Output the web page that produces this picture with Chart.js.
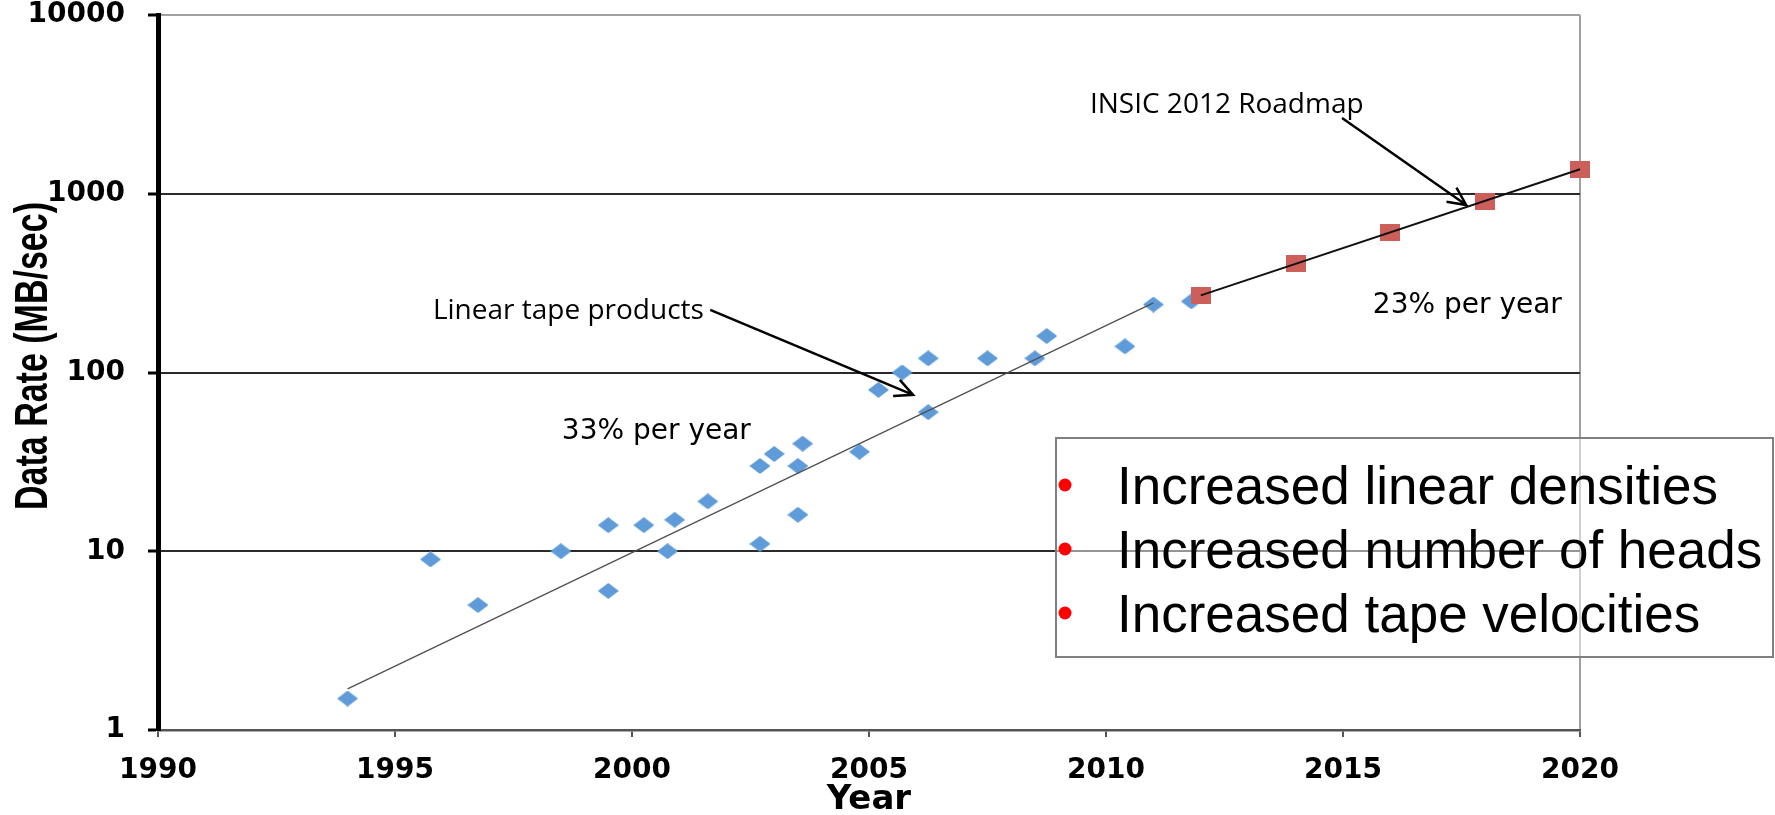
<!DOCTYPE html>
<html>
<head>
<meta charset="utf-8">
<title>Linear tape data rate trend</title>
<script src="https://cdn.jsdelivr.net/npm/chart.js@4.4.1/dist/chart.umd.min.js"></script>
<style>
  html, body { margin: 0; padding: 0; background: #ffffff; }
  #wrap { width: 1775px; height: 815px; }
</style>
</head>
<body>
<div id="wrap"><canvas id="chart" width="1775" height="815"></canvas></div>
<script>
// Linear tape products: year of introduction and native data rate (MB/sec)
const productYears = [1994, 1995.75, 1996.75, 1998.5, 1999.5, 1999.5, 2000.25, 2000.75, 2000.9, 2001.6,
                      2002.7, 2002.7, 2003.0, 2003.5, 2003.6, 2003.5, 2004.8, 2005.2, 2005.7, 2006.25,
                      2006.25, 2007.5, 2008.5, 2008.75, 2010.4, 2011.0, 2011.8];
const productRates = [1.5, 9, 5, 10, 14, 6, 14, 10, 15, 19,
                      30, 11, 35, 30, 40, 16, 36, 80, 100, 60,
                      120, 120, 120, 160, 140, 240, 250];

// INSIC 2012 roadmap projection (MB/sec)
const roadmapYears = [2012, 2014, 2016, 2018, 2020];
const roadmapRates = [270, 405, 610, 910, 1370];

// Growth-rate fit lines (end points)
const productFitYears = [1994, 2011];
const productFitRates = [1.7, 245];
const roadmapFitYears = [2012, 2020];
const roadmapFitRates = [270, 1370];

// Axis ticks
const xTickValues = [1990, 1995, 2000, 2005, 2010, 2015, 2020];
const xTickLabels = ['1990', '1995', '2000', '2005', '2010', '2015', '2020'];
const yTickValues = [1, 10, 100, 1000, 10000];
const yTickLabels = ['1', '10', '100', '1000', '10000'];

// Call-out notes with arrows (anchors in year / MB/sec)
const callouts = [
  { text: 'Linear tape products', x: 1995.8, y: 199, from: [2001.65, 224], to: [2005.93, 75] },
  { text: 'INSIC 2012 Roadmap', x: 2009.66, y: 2830, from: [2014.98, 2650], to: [2017.6, 865] }
];
const growthNotes = [
  { text: '33% per year', x: 1998.52, y: 42.5 },
  { text: '23% per year', x: 2015.63, y: 215 }
];

// Bulleted text box
const legendNotes = ['Increased linear densities', 'Increased number of heads', 'Increased tape velocities'];

const toPoints = (xs, ys) => xs.map((x, i) => ({ x: x, y: ys[i] }));

function diamondMarker(w, h, color) {
  const c = document.createElement('canvas');
  c.width = w; c.height = h;
  const g = c.getContext('2d');
  g.fillStyle = color;
  g.beginPath();
  g.moveTo(w / 2, 0); g.lineTo(w, h / 2); g.lineTo(w / 2, h); g.lineTo(0, h / 2);
  g.closePath(); g.fill();
  return c;
}
function squareMarker(w, h, color) {
  const c = document.createElement('canvas');
  c.width = w; c.height = h;
  const g = c.getContext('2d');
  g.fillStyle = color;
  g.fillRect(0, 0, w, h);
  return c;
}

function drawArrow(ctx, x0, y0, x1, y1) {
  const ang = Math.atan2(y1 - y0, x1 - x0);
  const len = 20, spread = Math.PI / 7;
  ctx.beginPath();
  ctx.moveTo(x0, y0); ctx.lineTo(x1, y1);
  ctx.moveTo(x1 - len * Math.cos(ang - spread), y1 - len * Math.sin(ang - spread));
  ctx.lineTo(x1, y1);
  ctx.lineTo(x1 - len * Math.cos(ang + spread), y1 - len * Math.sin(ang + spread));
  ctx.stroke();
}

const overlay = {
  id: 'overlay',
  afterDraw(chart) {
    const ctx = chart.ctx;
    const xs = chart.scales.x, ys = chart.scales.y;
    ctx.save();

    // Y axis title (wide bold face)
    ctx.save();
    ctx.translate(47, 356);
    ctx.rotate(-Math.PI / 2);
    ctx.scale(1, 1.36);
    ctx.font = 'bold 34px "Liberation Sans", Arial, sans-serif';
    ctx.fillStyle = '#000';
    ctx.textAlign = 'center';
    ctx.textBaseline = 'alphabetic';
    ctx.fillText('Data Rate (MB/sec)', 0, 0);
    ctx.restore();

    // Call-outs
    ctx.fillStyle = '#000';
    ctx.strokeStyle = '#000';
    ctx.lineWidth = 2.5;
    ctx.textAlign = 'left';
    ctx.textBaseline = 'alphabetic';
    ctx.font = '28px "Open Sans", sans-serif';
    callouts.forEach(c => {
      ctx.fillText(c.text, xs.getPixelForValue(c.x), ys.getPixelForValue(c.y));
      drawArrow(ctx,
        xs.getPixelForValue(c.from[0]), ys.getPixelForValue(c.from[1]),
        xs.getPixelForValue(c.to[0]), ys.getPixelForValue(c.to[1]));
    });

    ctx.font = '28px "DejaVu Sans", sans-serif';
    growthNotes.forEach(n => {
      ctx.fillText(n.text, xs.getPixelForValue(n.x), ys.getPixelForValue(n.y));
    });

    // Bulleted text box
    const bx = 1056, by = 438, bw = 717, bh = 219;
    ctx.fillStyle = 'rgba(255,255,255,0.5)';
    ctx.fillRect(bx, by, bw, bh);
    ctx.strokeStyle = '#808080';
    ctx.lineWidth = 2;
    ctx.strokeRect(bx, by, bw, bh);
    ctx.font = '53px "Liberation Sans", Arial, sans-serif';
    legendNotes.forEach((t, i) => {
      const base = 504 + i * 64;
      ctx.fillStyle = '#ff0000';
      ctx.beginPath();
      ctx.arc(1065, base - 19, 6.5, 0, Math.PI * 2);
      ctx.fill();
      ctx.fillStyle = '#000';
      ctx.fillText(t, 1117, base);
    });

    ctx.restore();
  }
};

const tickFont = { family: '"DejaVu Sans", sans-serif', size: 28, weight: 'bold', lineHeight: 1 };

new Chart(document.getElementById('chart'), {
  type: 'scatter',
  data: {
    datasets: [
      { label: 'Roadmap fit', data: toPoints(roadmapFitYears, roadmapFitRates), showLine: true,
        borderColor: '#111111', borderWidth: 2, pointRadius: 0, clip: false },
      { label: 'Product fit', data: toPoints(productFitYears, productFitRates), showLine: true,
        borderColor: '#505050', borderWidth: 1.3, pointRadius: 0, clip: false },
      { label: 'INSIC 2012 Roadmap', data: toPoints(roadmapYears, roadmapRates),
        pointStyle: squareMarker(20, 17, '#cd5f5a'), pointRadius: 10, clip: false },
      { label: 'Linear tape products', data: toPoints(productYears, productRates),
        pointStyle: diamondMarker(21, 16, '#5e9bd8'), pointRadius: 10, clip: false }
    ]
  },
  options: {
    responsive: false,
    animation: false,
    events: [],
    layout: { padding: { top: 15, right: 195, left: 0, bottom: 0 } },
    plugins: { legend: { display: false }, tooltip: { enabled: false } },
    scales: {
      x: {
        type: 'linear',
        min: 1990, max: 2020,
        afterFit: s => { s.height = 85; },
        afterBuildTicks: s => { s.ticks = xTickValues.map(v => ({ value: v })); },
        ticks: {
          callback: (v, i) => xTickLabels[i],
          font: tickFont, color: '#000', padding: 20, maxRotation: 0, autoSkip: false
        },
        grid: {
          color: c => (c.tick && c.tick.value === 2020) ? '#a0a0a0' : 'rgba(0,0,0,0)',
          lineWidth: 2, tickColor: '#555555', tickLength: 7, tickWidth: 2
        },
        border: { color: '#555555', width: 2.5 },
        title: {
          display: true, text: 'Year', color: '#000',
          font: { family: '"DejaVu Sans", sans-serif', size: 34, weight: 'bold', lineHeight: 1 },
          padding: { top: 0, bottom: -2 }
        }
      },
      y: {
        type: 'logarithmic',
        min: 1, max: 10000,
        afterFit: s => { s.width = 158; s.paddingTop = 0; s.paddingBottom = 0; },
        afterBuildTicks: s => { s.ticks = yTickValues.map(v => ({ value: v })); },
        ticks: {
          callback: (v, i) => yTickLabels[i],
          font: tickFont, color: '#000', padding: 23, autoSkip: false
        },
        grid: {
          color: c => {
            if (!c.tick) return 'rgba(0,0,0,0)';
            if (c.tick.value === 10000) return '#a0a0a0';
            if (c.tick.value === 1) return 'rgba(0,0,0,0)';
            return '#2a2a2a';
          },
          lineWidth: 2, tickColor: '#000000', tickLength: 10, tickWidth: 3
        },
        border: { color: '#000000', width: 5 }
      }
    }
  },
  plugins: [overlay]
});
</script>
</body>
</html>
